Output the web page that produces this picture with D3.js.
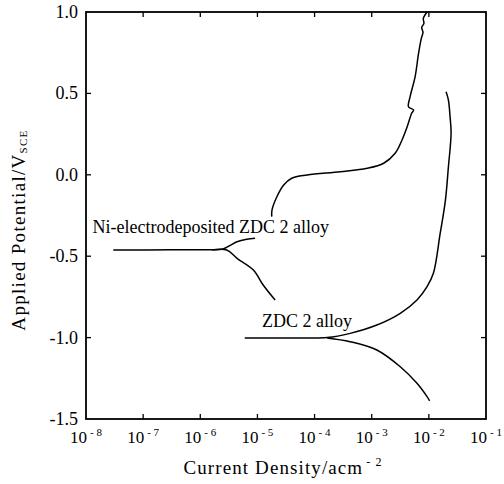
<!DOCTYPE html>
<html>
<head>
<meta charset="utf-8">
<script src="https://cdn.jsdelivr.net/npm/d3@7"></script>
<style>
  body { margin: 0; background: #fff; }
  text { font-family: "Liberation Serif", "DejaVu Serif", serif; fill: #000; }
</style>
</head>
<body>
<div id="chart"></div>
<script>
// x ticks (decades) and y ticks
const xTickExps = [-8, -7, -6, -5, -4, -3, -2, -1];
const yTicks = [1.0, 0.5, 0.0, -0.5, -1.0, -1.5];

// Ni-electrodeposited ZDC 2 alloy
const niCathI = [3.0e-8, 3e-7, 1.5e-6, 2.9e-6, 4.4e-6, 8.5e-6, 1.26e-5, 2.04e-5];
const niCathE = [-0.462, -0.461, -0.460, -0.462, -0.513, -0.585, -0.677, -0.769];
const niAnodShortI = [1.6e-6, 2.5e-6, 3.4e-6, 4.4e-6, 6.5e-6, 9.1e-6];
const niAnodShortE = [-0.460, -0.456, -0.432, -0.411, -0.396, -0.390];
const niAnodI = [1.78e-5, 1.8e-5, 2.19e-5, 2.88e-5, 3.98e-5, 7.4e-5, 2.82e-4, 8.3e-4, 1.62e-3, 2.57e-3,
                 3.39e-3, 4.17e-3, 5.0e-3, 5.4e-3, 4.4e-3, 4.7e-3, 5.75e-3, 6.6e-3, 7.4e-3, 7.9e-3,
                 7.5e-3, 8.2e-3, 8.0e-3, 9.3e-3];
const niAnodE = [-0.257, -0.216, -0.135, -0.063, -0.021, -0.001, 0.019, 0.040, 0.071, 0.132,
                 0.214, 0.295, 0.378, 0.398, 0.418, 0.480, 0.603, 0.746, 0.840, 0.875,
                 0.905, 0.930, 0.960, 1.0];

// ZDC 2 alloy
const zdcAnodI = [6.0e-6, 5e-5, 1.66e-4, 4.2e-4, 1.23e-3, 3.16e-3, 6.2e-3, 9.3e-3, 1.2e-2, 1.58e-2,
                  1.95e-2, 2.2e-2, 2.45e-2, 2.35e-2, 2.2e-2, 2.0e-2];
const zdcAnodE = [-1.002, -1.002, -1.0, -0.974, -0.923, -0.851, -0.769, -0.687, -0.605, -0.359,
                  -0.155, 0.050, 0.255, 0.357, 0.459, 0.510];
const zdcCathI = [1.66e-4, 4.2e-4, 1.23e-3, 3.16e-3, 6.2e-3, 9.3e-3, 1.03e-2];
const zdcCathE = [-1.002, -1.025, -1.076, -1.179, -1.281, -1.363, -1.388];

const labels = [
  {text: "Ni-electrodeposited ZDC 2 alloy", i: 1.3e-8, e: -0.357},
  {text: "ZDC 2 alloy", i: 1.2e-5, e: -0.935}
];

const width = 504, height = 484;
const margin = {left: 86, right: 18, top: 12, bottom: 65};

const svg = d3.select("#chart").append("svg")
  .attr("width", width)
  .attr("height", height);

const x = d3.scaleLog()
  .domain([1e-8, 1e-1])
  .range([margin.left, width - margin.right]);
const y = d3.scaleLinear()
  .domain([-1.5, 1.0])
  .range([height - margin.bottom, margin.top]);

const x0 = margin.left, x1 = width - margin.right;
const y0 = height - margin.bottom, y1 = margin.top;

// ticks, inward, on all four sides
const tickLen = 5;
const tickVals = xTickExps.map(p => Math.pow(10, p));
const ticks = svg.append("g").attr("stroke", "#000").attr("stroke-width", 1.3);
tickVals.slice(1, -1).forEach(v => {
  ticks.append("line").attr("x1", x(v)).attr("x2", x(v)).attr("y1", y0).attr("y2", y0 - tickLen);
  ticks.append("line").attr("x1", x(v)).attr("x2", x(v)).attr("y1", y1).attr("y2", y1 + tickLen);
});
yTicks.slice(1, -1).forEach(v => {
  ticks.append("line").attr("x1", x0).attr("x2", x0 + tickLen).attr("y1", y(v)).attr("y2", y(v));
  ticks.append("line").attr("x1", x1).attr("x2", x1 - tickLen).attr("y1", y(v)).attr("y2", y(v));
});

// frame
svg.append("rect")
  .attr("x", x0).attr("y", y1)
  .attr("width", x1 - x0).attr("height", y0 - y1)
  .attr("fill", "none").attr("stroke", "#000").attr("stroke-width", 1.8);

// y tick labels
svg.append("g").selectAll("text")
  .data(yTicks)
  .join("text")
  .attr("x", x0 - 8)
  .attr("y", d => y(d) + 6)
  .attr("text-anchor", "end")
  .attr("font-size", 18)
  .text(d => d.toFixed(1));

// x tick labels 10^n
const xl = svg.append("g").selectAll("text")
  .data(xTickExps)
  .join("text")
  .attr("x", d => x(Math.pow(10, d)))
  .attr("y", y0 + 24)
  .attr("text-anchor", "middle")
  .attr("font-size", 17);
xl.append("tspan").text("10");
xl.append("tspan")
  .attr("font-size", 11)
  .attr("dx", 3)
  .attr("dy", -7)
  .text(d => "- " + Math.abs(d));

// axis titles
const xt = svg.append("text")
  .attr("x", 283)
  .attr("y", 474)
  .attr("text-anchor", "middle")
  .attr("font-size", 19)
  .attr("letter-spacing", 1.1);
xt.append("tspan").text("Current Density/acm");
xt.append("tspan").attr("font-size", 12).attr("dx", 3).attr("dy", -8).text("- 2");

const yt = svg.append("text")
  .attr("transform", `translate(25,230) rotate(-90)`)
  .attr("text-anchor", "middle")
  .attr("font-size", 19)
  .attr("letter-spacing", 1.3);
yt.append("tspan").text("Applied Potential/V");
yt.append("tspan").attr("font-size", 11).attr("dy", 2).text("SCE");

// curves
const lineC = d3.line().x(d => x(d[0])).y(d => y(d[1])).curve(d3.curveCatmullRom.alpha(0.5));
const series = [
  [niCathI, niCathE],
  [niAnodShortI, niAnodShortE],
  [niAnodI, niAnodE],
  [zdcAnodI, zdcAnodE],
  [zdcCathI, zdcCathE]
];
svg.append("g").selectAll("path")
  .data(series.map(s => s[0].map((v, k) => [v, s[1][k]])))
  .join("path")
  .attr("d", d => lineC(d))
  .attr("fill", "none")
  .attr("stroke", "#000")
  .attr("stroke-width", 1.5);

// curve labels
svg.append("g").selectAll("text")
  .data(labels)
  .join("text")
  .attr("x", d => x(d.i))
  .attr("y", d => y(d.e))
  .attr("font-size", 18)
  .text(d => d.text);
</script>
</body>
</html>
